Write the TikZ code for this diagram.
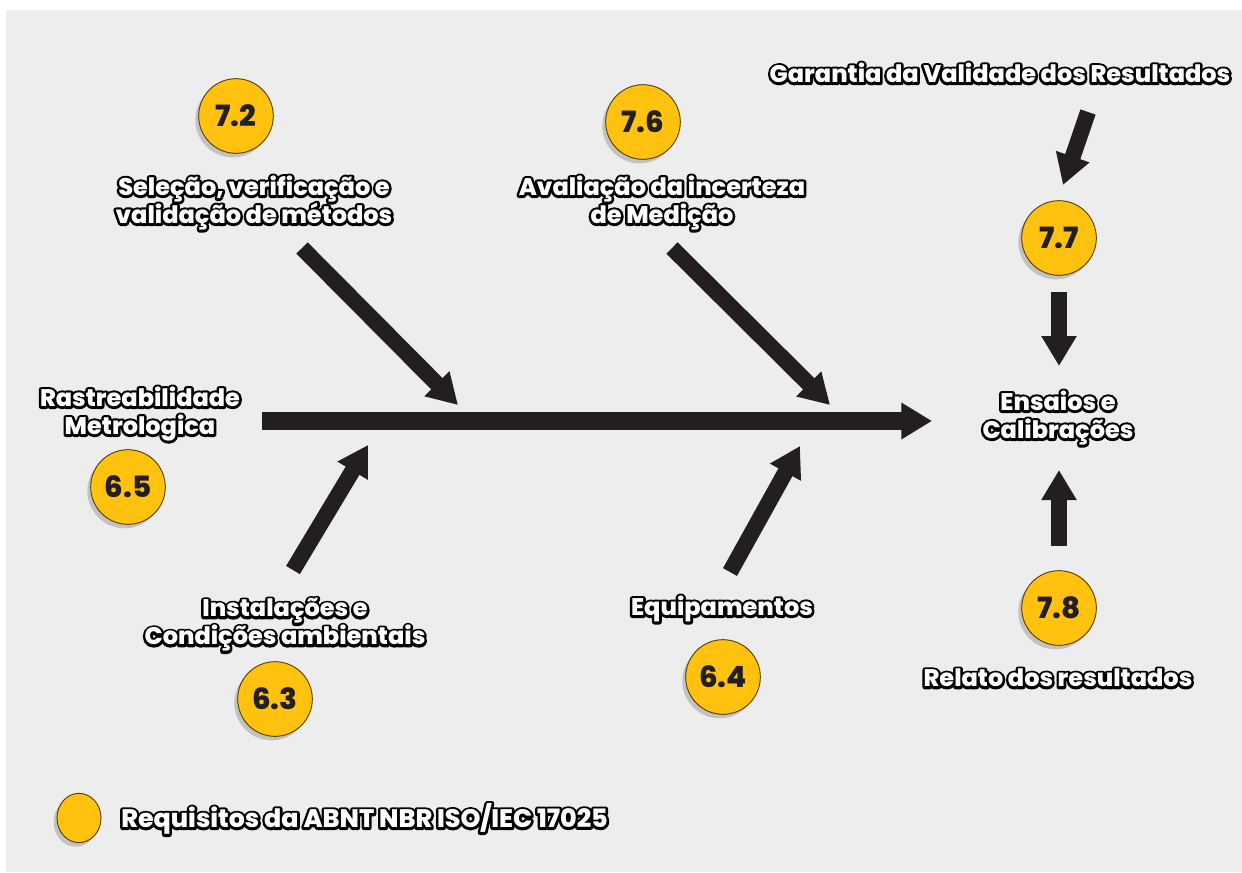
\documentclass[tikz,border=0pt]{standalone}
\usepackage{fontspec}
\setmainfont{Poppins}
\IfFontExistsTF{Poppins ExtraBold}{\newfontfamily\heavy{Poppins ExtraBold}}{\newfontfamily\heavyb{Poppins}\newcommand\heavy{\heavyb\bfseries}}
\usetikzlibrary{arrows.meta,shadows,shapes.geometric}
\definecolor{bggray}{HTML}{EDEDED}
\definecolor{badge}{HTML}{FFC20E}
\definecolor{ink}{HTML}{231F20}
\definecolor{rim}{HTML}{5A4000}
\newcommand{\olt}[1]{\leavevmode\rlap{\special{pdf:literal direct 1 Tr 3.8 w 1 j}\textcolor{black}{#1}\special{pdf:literal direct 0 Tr}}#1}
\tikzset{
  badgenode/.style={circle, fill=badge, draw=rim, line width=0.7pt, minimum size=56pt, inner sep=0pt,
    font=\fontsize{22}{22}\selectfont\heavy, text=ink,
    drop shadow={shadow xshift=-2.5pt, shadow yshift=-3pt, fill=black, opacity=0.18}},
  lbl/.style={text=white, align=center, font=\fontsize{18}{21}\selectfont\heavy, inner sep=0pt},
  arr/.style={draw=ink, line width=12pt, -{Triangle[length=22.5pt,width=25pt]}},
  mainarr/.style={draw=ink, line width=13pt, -{Triangle[length=23pt,width=26pt]}}
}
\begin{document}
\begin{tikzpicture}[x=0.75pt,y=-0.75pt]
\useasboundingbox (0,0) rectangle (1242,872);
\fill[white] (0,0) rectangle (1242,872);
\fill[bggray] (6,10) rectangle (1242,872);

% badges
\node[badgenode] (b72) at (236,116) {7.2};
\node[badgenode] (b76) at (643,122) {7.6};
\node[badgenode] (b77) at (1059,238) {7.7};
\node[badgenode] (b78) at (1059,608) {7.8};
\node[badgenode] (b65) at (128,487) {6.5};
\node[badgenode] (b63) at (275,699) {6.3};
\node[badgenode] (b64) at (723,677) {6.4};
\node[badgenode, ellipse, minimum size=0pt, minimum width=33pt, minimum height=37pt] (leg) at (79,818) {};

% labels
\node[lbl] (t72) at (254,203) {\olt{Seleção, verificação e}\\\olt{validação de métodos}};
\node[lbl] (t76) at (662,203) {\olt{Avaliação da incerteza}\\\olt{de Medição}};
\node[lbl] (tgar) at (1000,73) {\olt{Garantia da Validade dos Resultados}};
\node[lbl] (t65) at (140,414) {\olt{Rastreabilidade}\\\olt{Metrologica}};
\node[lbl] (tend) at (1058,418) {\olt{Ensaios e}\\\olt{Calibrações}};
\node[lbl] (t63) at (285,625) {\olt{Instalações e}\\\olt{Condições ambientais}};
\node[lbl] (t64) at (722,609) {\olt{Equipamentos}};
\node[lbl] (t78) at (1058,678) {\olt{Relato dos resultados}};
\node[lbl, anchor=west, font=\fontsize{19}{21}\selectfont\heavy] (tleg) at (121,819) {\olt{Requisitos da ABNT NBR ISO/IEC 17025}};

% arrow end points
\coordinate (ms) at (262,421);
\coordinate (me) at (932,421);
\coordinate (a1s) at (302,248);
\coordinate (a1e) at (458,405);
\coordinate (a2s) at (672,248);
\coordinate (a2e) at (830,405);
\coordinate (a3s) at (293,570);
\coordinate (a3e) at (368,445);
\coordinate (a4s) at (730,572);
\coordinate (a4e) at (800,446);
\coordinate (a5s) at (1088,112);
\coordinate (a5e) at (1063,185);
\coordinate (a6s) at (1059,292);
\coordinate (a6e) at (1059,366);
\coordinate (a7s) at (1059,546);
\coordinate (a7e) at (1059,470);

\draw[mainarr] (ms) -- (me);
\draw[arr] (a1s) -- (a1e);
\draw[arr] (a2s) -- (a2e);
\draw[arr] (a3s) -- (a3e);
\draw[arr] (a4s) -- (a4e);
\draw[arr] (a5s) -- (a5e);
\draw[arr] (a6s) -- (a6e);
\draw[arr] (a7s) -- (a7e);
\end{tikzpicture}
\end{document}
